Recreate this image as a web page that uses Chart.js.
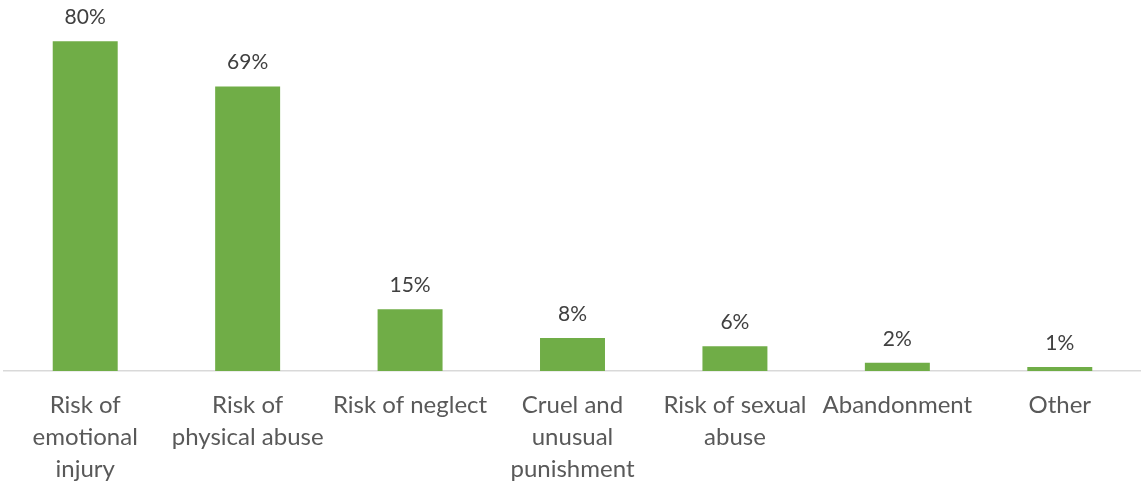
<!DOCTYPE html>
<html>
<head>
<meta charset="utf-8">
<script src="https://cdn.jsdelivr.net/npm/chart.js@4"></script>
<style>
html,body{margin:0;padding:0;background:#fff;}
#wrap{width:1141px;height:485px;position:relative;}
</style>
</head>
<body>
<div id="wrap"><canvas id="c" width="1141" height="485"></canvas></div>
<script>
const categories = [
  ["Risk of", "emotional", "injury"],
  ["Risk of", "physical abuse"],
  ["Risk of neglect"],
  ["Cruel and", "unusual", "punishment"],
  ["Risk of sexual", "abuse"],
  ["Abandonment"],
  ["Other"]
];
const values = [80, 69, 15, 8, 6, 2, 1];
const valueLabels = ["80%", "69%", "15%", "8%", "6%", "2%", "1%"];

const dataLabelPlugin = {
  id: 'dataLabels',
  afterDatasetsDraw(chart) {
    const ctx = chart.ctx;
    const meta = chart.getDatasetMeta(0);
    ctx.save();
    ctx.fillStyle = '#404040';
    ctx.font = '21px Lato, "Open Sans", sans-serif';
    ctx.textAlign = 'center';
    ctx.textBaseline = 'middle';
    meta.data.forEach((bar, i) => {
      ctx.fillText(valueLabels[i], bar.x, bar.y - 24);
    });
    ctx.restore();
  }
};

new Chart(document.getElementById('c'), {
  type: 'bar',
  data: {
    labels: categories,
    datasets: [{
      data: values,
      backgroundColor: '#70AD47',
      borderWidth: 0,
      categoryPercentage: 1.0,
      barPercentage: 0.4
    }]
  },
  options: {
    responsive: false,
    animation: false,
    layout: { padding: { left: 4, right: 0, top: 0, bottom: 0 } },
    plugins: { legend: { display: false }, tooltip: { enabled: false } },
    scales: {
      x: {
        grid: { display: false, drawTicks: false },
        border: { display: true, color: '#d9d9d9', width: 1.5 },
        ticks: {
          color: '#595959',
          font: { family: 'Lato, "Open Sans", sans-serif', size: 24, lineHeight: '32px' },
          padding: 18,
          maxRotation: 0,
          autoSkip: false
        },
        afterFit(scale) { scale.height = 114; }
      },
      y: {
        display: false,
        min: 0,
        max: 90
      }
    }
  },
  plugins: [dataLabelPlugin]
});
</script>
</body>
</html>
